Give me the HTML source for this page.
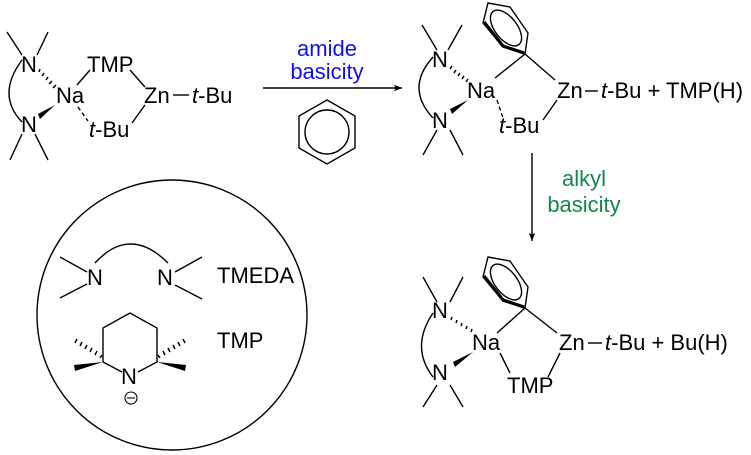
<!DOCTYPE html>
<html><head><meta charset="utf-8"><style>
html,body{margin:0;padding:0;background:#fff;}
svg{display:block;}
text{font-family:"Liberation Sans",sans-serif;font-size:22px;fill:#000;}
</style></head><body>
<svg width="751" height="455" viewBox="0 0 751 455" xmlns="http://www.w3.org/2000/svg">
<defs>
<marker id="ah" viewBox="0 0 10 10" refX="10" refY="5" markerWidth="10" markerHeight="8" orient="auto" markerUnits="userSpaceOnUse"><path d="M0,1 L10,5 L0,9 L2,5 Z" fill="#000"/></marker>
</defs>
<g stroke="#000" stroke-width="1.4" fill="none">
<path d="M7,32 L22,55 M48,32 L37,55 M10,160 L22,134 M48,160 L35,134"/>
<path d="M22,60 Q-4,95 22,122"/>
<path d="M77,85 L90,70 M130,70 L145,87 M145,105 L132,123"/>
<path d="M78,107 L88,121" stroke-dasharray="4,3"/>
<line x1="263" y1="88" x2="402" y2="88" marker-end="url(#ah)"/>
<polygon points="327,100 355,116 355,148 327,164 299,148 299,116"/>
<circle cx="327" cy="132" r="22"/>
<path d="M422,25 L437,50 M462,25 L448,50 M437,130 L423,155 M450,130 L463,155"/>
<path d="M433,57 Q405,88 433,118"/>
<path d="M495,78 L525,54 L555,80 M557,100 L543,120"/>
<path d="M497,100 L503,118" stroke-dasharray="4,3"/>
<g id="ph">
<polygon points="488,3 510,7 528,33 525,54 503,47 483,23"/>
<ellipse cx="506" cy="28" rx="11" ry="21" transform="rotate(-38 506 28)"/>
<path d="M484,22 L503,46 L524,53" stroke-width="3.2"/>
</g>
<line x1="532" y1="153" x2="532" y2="241" marker-end="url(#ah)"/>
<path d="M423,277 L437,302 M463,277 L450,302 M437,385 L423,407 M450,385 L463,407"/>
<path d="M433,313 Q410,347 433,377"/>
<path d="M497,333 L525,308 L557,333 M560,353 L548,377 M500,353 L510,373"/>
<use href="#ph" transform="translate(0,254)"/>
<circle cx="172" cy="315" r="135"/>
<path d="M95,263 Q130,225 168,263"/>
<path d="M60,257 L87,272 M60,298 L87,284 M202,257 L175,272 M202,299 L175,285"/>
<path d="M103,362 L103,328 L130,313 L157,328 L157,362 L138,372 M103,362 L122,372"/>
<circle cx="131" cy="398" r="6" stroke-width="1.1"/>
<line x1="127" y1="398" x2="135" y2="398" stroke-width="1.1"/>
</g>
<g fill="#000">
<polygon points="55,105 38,114 40,119"/>
<polygon points="468,100 450,109 452,114"/>
<polygon points="473,352 453,362 455,367"/>
<polygon points="103,362 74,365 75,371"/>
<polygon points="157,362 186,365 185,371"/>
</g>
<g stroke="#000" stroke-width="1.5">
<path d="M40,71 L39,74 M44,75 L42,78 M48,79 L46,82 M52,83 L49,86 M56,87 L53,90" transform="translate(0,-2)"/>
<path d="M452,68 L450,71 M456,72 L454,75 M460,75 L458,78 M464,78 L462,81 M468,81 L466,84" transform="translate(0,-2)"/>
<path d="M452,319 L451,322 M457,322 L456,325 M462,325 L461,328 M467,328 L466,331 M472,331 L471,334" transform="translate(0,-2)"/>
<path d="M100,358 L102,355 M95,355 L97,351 M90,352 L92,348 M85,349 L87,345 M80,346 L82,342 M75,343 L77,339"/>
<path d="M160,358 L158,355 M165,355 L163,351 M170,352 L168,348 M175,349 L173,345 M180,346 L178,342 M185,343 L183,339"/>
</g>
<text x="21" y="72">N</text>
<text x="56" y="103">Na</text>
<text x="21" y="132">N</text>
<text x="87" y="72">TMP</text>
<text x="144" y="103">Zn</text>
<line x1="173" y1="95" x2="189" y2="95" stroke="#000" stroke-width="1.4"/>
<text x="192" y="103"><tspan font-style="italic">t</tspan>-Bu</text>
<text x="89" y="137"><tspan font-style="italic">t</tspan>-Bu</text>
<text x="327" y="56" text-anchor="middle" style="fill:#1010ee">amide</text>
<text x="327" y="79" text-anchor="middle" style="fill:#1010ee">basicity</text>
<text x="432" y="67">N</text>
<text x="467" y="98">Na</text>
<text x="432" y="128">N</text>
<text x="499" y="133"><tspan font-style="italic">t</tspan>-Bu</text>
<text x="557" y="98">Zn</text>
<line x1="585" y1="91" x2="598" y2="91" stroke="#000" stroke-width="1.4"/>
<text x="601" y="98"><tspan font-style="italic">t</tspan>-Bu + TMP(H)</text>
<text x="584" y="186" text-anchor="middle" style="fill:#11884a">alkyl</text>
<text x="584" y="212" text-anchor="middle" style="fill:#11884a">basicity</text>
<text x="432" y="318">N</text>
<text x="472" y="350">Na</text>
<text x="432" y="380">N</text>
<text x="507" y="393">TMP</text>
<text x="559" y="350">Zn</text>
<line x1="588" y1="343" x2="602" y2="343" stroke="#000" stroke-width="1.4"/>
<text x="605" y="350"><tspan font-style="italic">t</tspan>-Bu + Bu(H)</text>
<text x="87" y="285">N</text>
<text x="157" y="285">N</text>
<text x="217" y="283">TMEDA</text>
<text x="217" y="348">TMP</text>
<text x="121" y="384">N</text>
</svg>
</body></html>
